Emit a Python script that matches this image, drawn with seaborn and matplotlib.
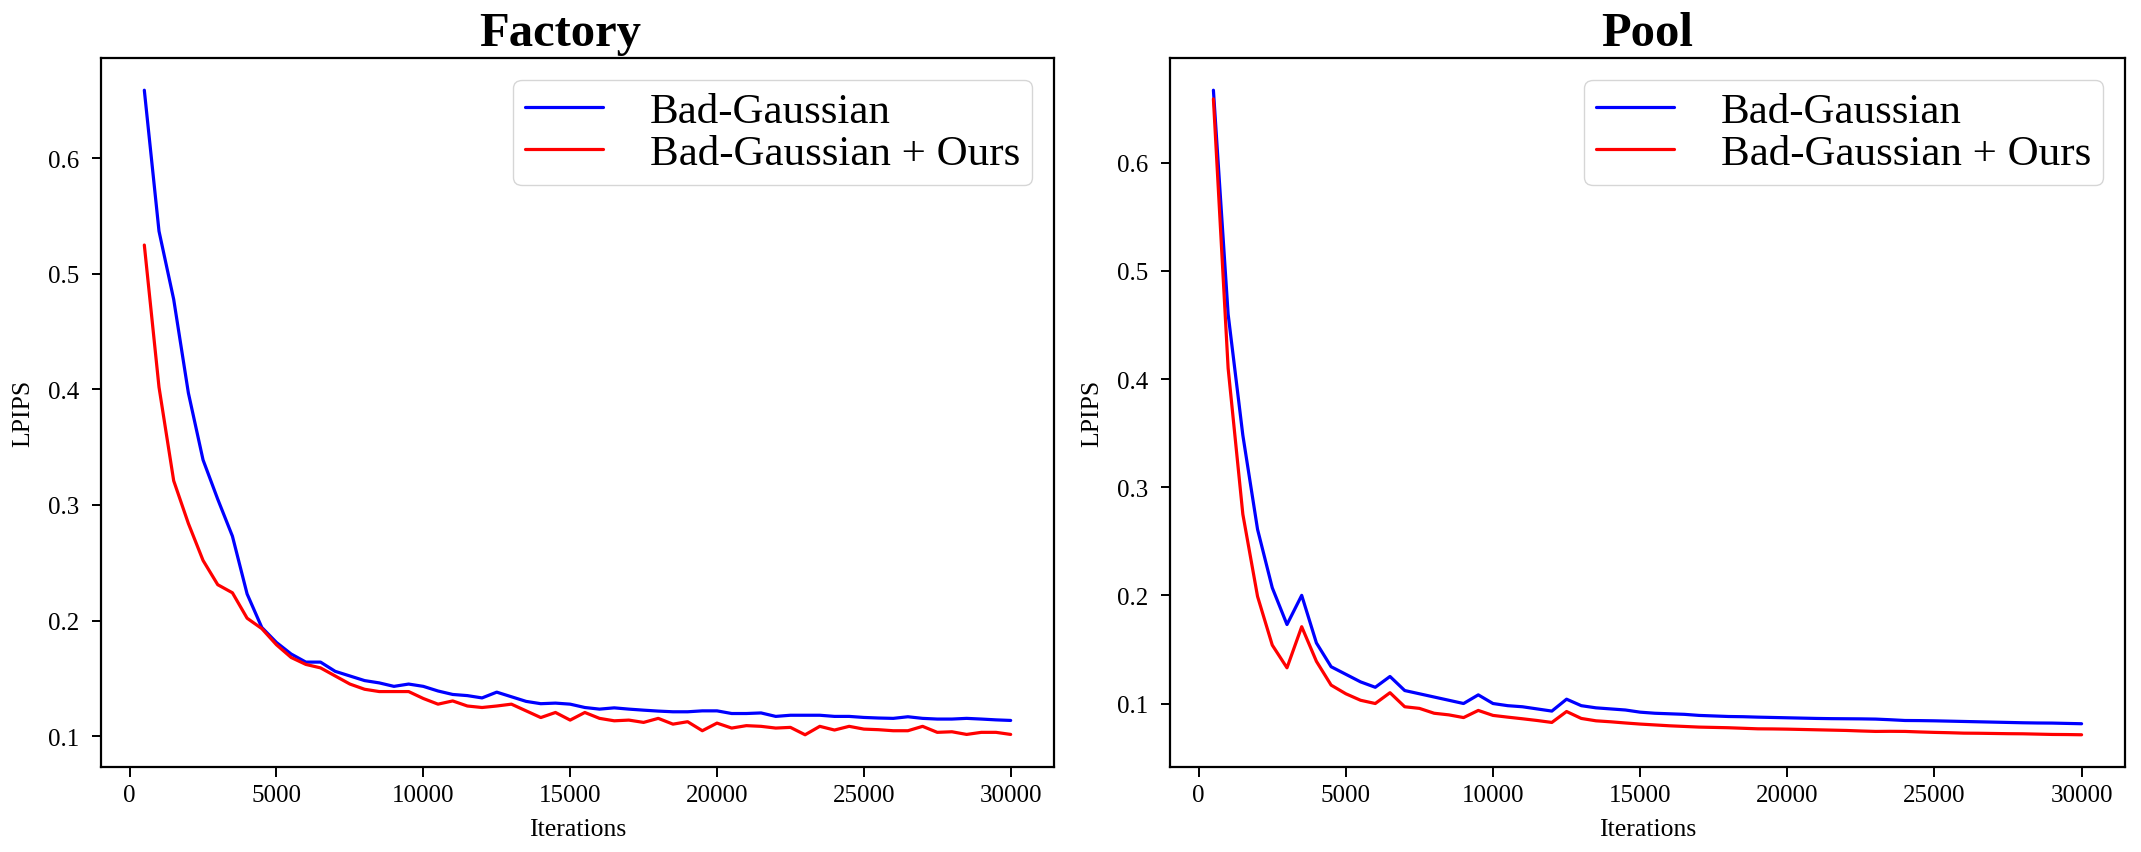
import numpy as np
import pandas as pd
import matplotlib
matplotlib.use("Agg")
import matplotlib.pyplot as plt
import seaborn as sns

# ---------------- data ----------------
iterations = list(range(500, 30001, 500))

factory_bad = [0.659, 0.537, 0.478, 0.397, 0.339, 0.305, 0.273, 0.223, 0.194, 0.181,
               0.171, 0.164, 0.164, 0.156, 0.152, 0.148, 0.146, 0.143, 0.145, 0.143,
               0.139, 0.136, 0.135, 0.133, 0.138, 0.134, 0.130, 0.128, 0.1285, 0.1276,
               0.1247, 0.1233, 0.1244, 0.1233, 0.1224, 0.1216, 0.1210, 0.1210, 0.1218, 0.1218,
               0.1195, 0.1195, 0.1200, 0.1170, 0.1180, 0.1180, 0.1180, 0.1170, 0.1170, 0.1161,
               0.1156, 0.1153, 0.1167, 0.1153, 0.1147, 0.1147, 0.1153, 0.1147, 0.1140, 0.1135]
factory_ours = [0.525, 0.402, 0.321, 0.284, 0.252, 0.231, 0.224, 0.202, 0.193, 0.179,
                0.168, 0.162, 0.159, 0.152, 0.145, 0.1405, 0.1385, 0.1385, 0.1385, 0.1325,
                0.1276, 0.1304, 0.1260, 0.1247, 0.1260, 0.1276, 0.1218, 0.1160, 0.1204, 0.1138,
                0.1204, 0.1153, 0.1132, 0.1138, 0.1118, 0.1153, 0.1103, 0.1124, 0.1046, 0.1112,
                0.1069, 0.1090, 0.1084, 0.1069, 0.1075, 0.1011, 0.1084, 0.1052, 0.1084, 0.1060,
                0.1055, 0.1046, 0.1046, 0.1084, 0.1032, 0.1037, 0.1014, 0.1032, 0.1032, 0.1014]

pool_bad = [0.667, 0.460, 0.348, 0.261, 0.207, 0.173, 0.200, 0.156, 0.134, 0.127,
            0.120, 0.115, 0.125, 0.112, 0.109, 0.106, 0.103, 0.100, 0.108, 0.100,
            0.098, 0.097, 0.095, 0.093, 0.104, 0.098, 0.096, 0.095, 0.094, 0.092,
            0.091, 0.0905, 0.0900, 0.0890, 0.0885, 0.0880, 0.0878, 0.0874, 0.0871, 0.0868,
            0.0865, 0.0862, 0.0860, 0.0859, 0.0858, 0.0856, 0.0850, 0.0843, 0.0842, 0.0840,
            0.0837, 0.0834, 0.0831, 0.0828, 0.0825, 0.0822, 0.0820, 0.0819, 0.0816, 0.0813]
pool_ours = [0.659, 0.410, 0.275, 0.199, 0.154, 0.133, 0.171, 0.139, 0.117, 0.109,
             0.103, 0.100, 0.110, 0.097, 0.0955, 0.091, 0.0895, 0.087, 0.0936, 0.089,
             0.0874, 0.0859, 0.0843, 0.0825, 0.0926, 0.0862, 0.0840, 0.0831, 0.0820, 0.0810,
             0.0802, 0.0794, 0.0788, 0.0782, 0.0779, 0.0776, 0.0771, 0.0766, 0.0765, 0.0763,
             0.0760, 0.0757, 0.0754, 0.0751, 0.0746, 0.0742, 0.0743, 0.0742, 0.0737, 0.0733,
             0.0730, 0.0726, 0.0725, 0.0723, 0.0721, 0.0720, 0.0717, 0.0714, 0.0713, 0.0711]

methods = ["Bad-Gaussian", "Bad-Gaussian + Ours"]
colors = {"Bad-Gaussian": "#0000ff", "Bad-Gaussian + Ours": "#ff0000"}
titles = ["Factory", "Pool"]
title_x = [0.482, 0.5]

# ---------------- style ----------------
sns.set_theme(style="ticks")
plt.rcParams["font.family"] = ["Liberation Serif", "DejaVu Serif"]
plt.rcParams.update({
    "axes.edgecolor": "black",
    "axes.linewidth": 1.6,
    "xtick.color": "black",
    "ytick.color": "black",
    "xtick.major.width": 1.4,
    "ytick.major.width": 1.4,
    "xtick.major.size": 7,
    "ytick.major.size": 6.5,
    "text.color": "black",
    "axes.labelcolor": "black",
})

fig = plt.figure(figsize=(21.41, 8.53), dpi=100)
W, H = 2141, 853
ax_left = fig.add_axes([101 / W, (H - 768) / H, 953 / W, 709 / H])
ax_right = fig.add_axes([1170 / W, (H - 768) / H, 955 / W, 709 / H])

datasets = [(factory_bad, factory_ours), (pool_bad, pool_ours)]
for ax, title, tx, (bad, ours) in zip([ax_left, ax_right], titles, title_x, datasets):
    df = pd.DataFrame({
        "Iterations": iterations * 2,
        "LPIPS": bad + ours,
        "Method": [methods[0]] * len(iterations) + [methods[1]] * len(iterations),
    })
    sns.lineplot(data=df, x="Iterations", y="LPIPS", hue="Method",
                 palette=colors, linewidth=2.3, ax=ax)
    for s in ax.spines.values():
        s.set_visible(True)
        s.set_color("black")
        s.set_linewidth(1.6)
    ax.set_xticks([0, 5000, 10000, 15000, 20000, 25000, 30000])
    ax.tick_params(axis="x", labelsize=18, pad=5)
    ax.tick_params(axis="y", labelsize=18, pad=9)
    ax.set_xlabel("Iterations", fontsize=18.5, labelpad=9)
    ax.set_ylabel("LPIPS", fontsize=18.5, labelpad=10)
    ax.set_title(title, fontsize=35, fontweight="bold", pad=9, x=tx)
    handles, labels = ax.get_legend_handles_labels()
    ax.legend(handles, labels, loc="upper right", fontsize=31,
              labelspacing=0.08, borderpad=0.28,
              handlelength=1.8, handletextpad=1.1,
              frameon=True, fancybox=True, framealpha=0.8, edgecolor="0.8")
    ax.grid(False)

fig.savefig("out.png", dpi=100, facecolor="white")
